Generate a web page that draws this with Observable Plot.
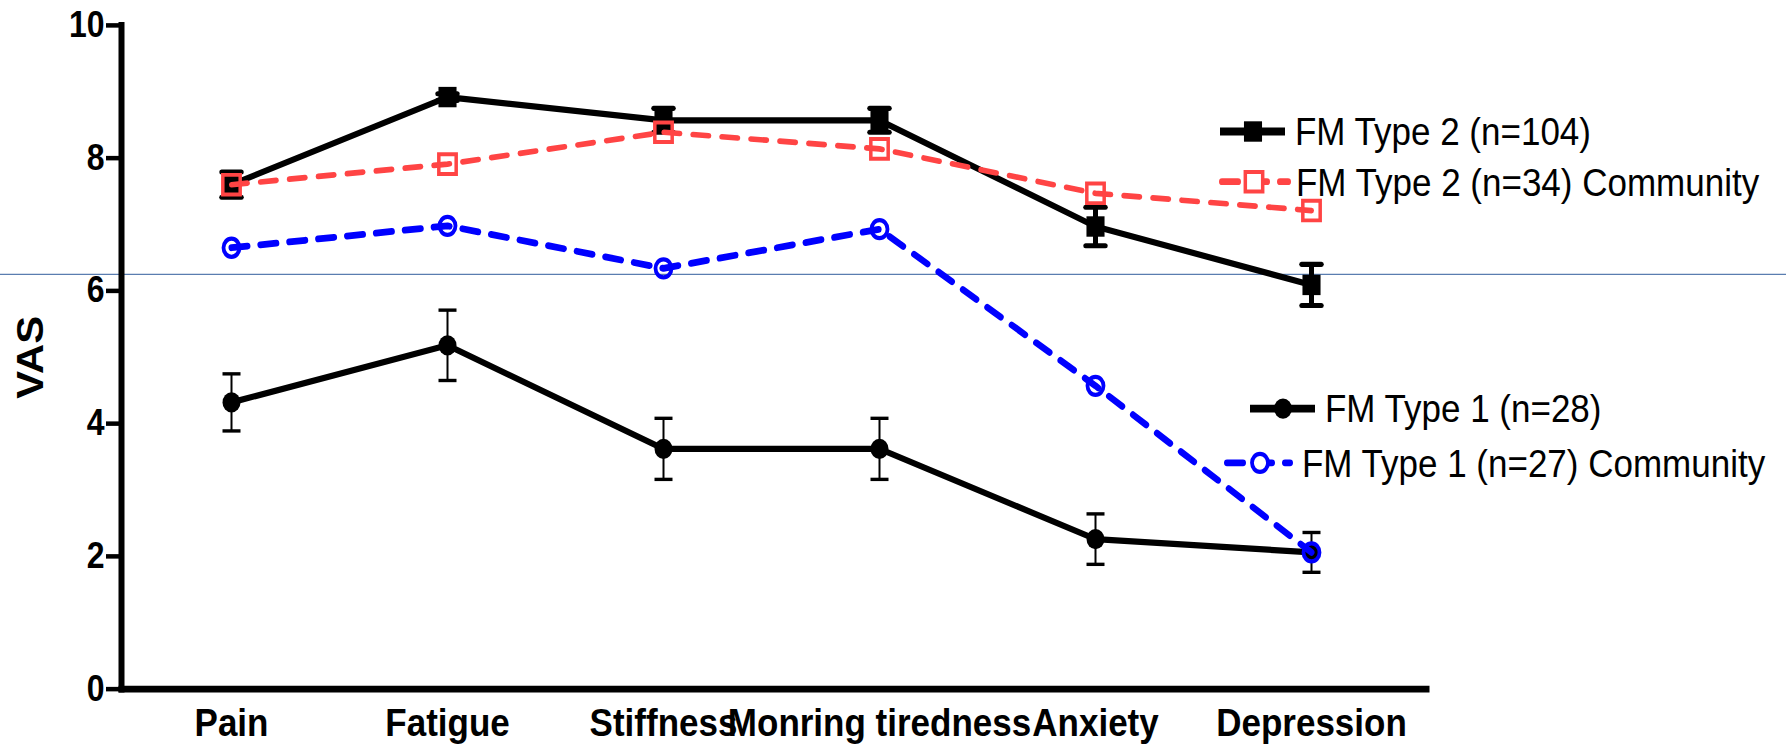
<!DOCTYPE html>
<html>
<head>
<meta charset="utf-8">
<script src="https://cdn.jsdelivr.net/npm/d3@7"></script>
<script src="https://cdn.jsdelivr.net/npm/@observablehq/plot@0.6"></script>
<style>
  html, body { margin: 0; padding: 0; background: #fff; }
  #chart svg { display: block; }
</style>
</head>
<body>
<div id="chart"></div>
<script>
// Symptom categories (x axis)
const categories = ["Pain", "Fatigue", "Stiffness", "Monring tiredness", "Anxiety", "Depression"];

// Mean VAS scores and error bars per group
const type2 = [7.60, 8.92, 8.57, 8.57, 6.97, 6.09];
const type2Err = [0.19, 0.05, 0.18, 0.18, 0.29, 0.31];
const type2Community = [7.60, 7.91, 8.39, 8.14, 7.47, 7.21];
const type1 = [4.32, 5.18, 3.62, 3.62, 2.26, 2.06];
const type1Err = [0.43, 0.53, 0.46, 0.46, 0.38, 0.30];
const type1Community = [6.65, 6.98, 6.34, 6.93, 4.57, 2.06];

// Y axis ticks
const yTicks = [0, 2, 4, 6, 8, 10];

// Thin horizontal reference line across the figure
const guideLevel = 6.24;

// Legend entries
const legendLabels = [
  "FM Type 2 (n=104)",
  "FM Type 2 (n=34) Community",
  "FM Type 1 (n=28)",
  "FM Type 1 (n=27) Community"
];

const RED = "#ff4444";
const BLUE = "#0000ff";
const FONT = "'Liberation Sans', Arial, Helvetica, sans-serif";
const DASH = "16,13";

function series(values, errors) {
  return categories.map((cat, i) => ({cat, v: values[i], e: errors ? errors[i] : 0}));
}
const t2 = series(type2, type2Err);
const t2c = series(type2Community);
const t1 = series(type1, type1Err);
const t1c = series(type1Community);

// horizontal cap for error bars
const capSymbol = {
  draw(ctx, size) {
    const r = Math.sqrt(size / Math.PI);
    ctx.moveTo(-r, 0);
    ctx.lineTo(r, 0);
  }
};

// The figure is laid out 660 units tall and displayed 745px tall (vertically stretched).
const W = 1786, H = 660, H_OUT = 745;

const chart = Plot.plot({
  width: W,
  height: H,
  marginLeft: 121,
  marginRight: 360,
  marginTop: 22,
  marginBottom: 50,
  style: {fontFamily: FONT, background: "white", color: "black"},
  x: {type: "point", domain: categories, range: [229.5, 1313], padding: 0},
  y: {domain: [0, 10]},
  marks: [
    Plot.axisY({ticks: yTicks, tickSize: 15, tickPadding: 2, strokeWidth: 4, fontSize: 32, fontWeight: "bold", label: null, tickFormat: d => String(d)}),
    Plot.axisX({tickSize: 0, tickPadding: 17, fontSize: 35, fontWeight: "bold", label: null}),
    Plot.frame({anchor: "left", strokeWidth: 6, strokeLinecap: "square"}),
    Plot.frame({anchor: "bottom", strokeWidth: 6, strokeLinecap: "square"}),
    Plot.text(["VAS"], {frameAnchor: "left", dx: -90, rotate: -90, text: d => d, fontSize: 37, fontWeight: "bold", letterSpacing: -3, textAnchor: "middle", lineAnchor: "middle"}),

    // FM Type 1
    Plot.ruleX(t1, {x: "cat", y1: d => d.v - d.e, y2: d => d.v + d.e, stroke: "black", strokeWidth: 2}),
    Plot.dot(t1, {x: "cat", y: d => d.v + d.e, symbol: capSymbol, r: 9, stroke: "black", strokeWidth: 3, fill: "none"}),
    Plot.dot(t1, {x: "cat", y: d => d.v - d.e, symbol: capSymbol, r: 9, stroke: "black", strokeWidth: 3, fill: "none"}),
    Plot.line(t1, {x: "cat", y: "v", stroke: "black", strokeWidth: 5.5}),
    Plot.dot(t1, {x: "cat", y: "v", symbol: "circle", r: 9, fill: "black"}),

    // FM Type 2
    Plot.ruleX(t2, {x: "cat", y1: d => d.v - d.e, y2: d => d.v + d.e, stroke: "black", strokeWidth: 5}),
    Plot.dot(t2, {x: "cat", y: d => d.v + d.e, symbol: capSymbol, r: 10, stroke: "black", strokeWidth: 4.5, strokeLinecap: "round", fill: "none"}),
    Plot.dot(t2, {x: "cat", y: d => d.v - d.e, symbol: capSymbol, r: 10, stroke: "black", strokeWidth: 4.5, strokeLinecap: "round", fill: "none"}),
    Plot.line(t2, {x: "cat", y: "v", stroke: "black", strokeWidth: 5.5}),
    Plot.dot(t2, {x: "cat", y: "v", symbol: "square", r: 10.2, fill: "black"}),

    // FM Type 2 Community
    Plot.line(t2c, {x: "cat", y: "v", stroke: RED, strokeWidth: 5, strokeDasharray: DASH, strokeLinecap: "round"}),
    Plot.dot(t2c, {x: "cat", y: "v", symbol: "square", r: 9.8, stroke: RED, strokeWidth: 3.5, fill: "none"}),

    // FM Type 1 Community
    Plot.line(t1c, {x: "cat", y: "v", stroke: BLUE, strokeWidth: 6, strokeDasharray: DASH, strokeLinecap: "round"}),
    Plot.dot(t1c, {x: "cat", y: "v", symbol: "circle", r: 8, stroke: BLUE, strokeWidth: 3.8, fill: "none"})
  ]
});

// stretch the drawing vertically to the display height
chart.setAttribute("height", H_OUT);
chart.setAttribute("preserveAspectRatio", "none");
chart.style.width = W + "px";
chart.style.height = H_OUT + "px";
chart.style.maxWidth = "none";

const svg = d3.select(chart);
const yScale = chart.scale("y");

// thin guide line spanning the whole figure, drawn beneath the data
svg.insert("line", "g")
  .attr("x1", 0).attr("x2", W)
  .attr("y1", yScale.apply(guideLevel)).attr("y2", yScale.apply(guideLevel))
  .attr("stroke", "#5a7db0").attr("stroke-width", 1);

// legend
const legendStyle = [
  {stroke: "black", dash: null, symbol: d3.symbolSquare, r: 10.2, fill: "black", sw: 0, lw: 7},
  {stroke: RED, dash: DASH, symbol: d3.symbolSquare, r: 9.8, fill: "none", sw: 3.5, lw: 6},
  {stroke: "black", dash: null, symbol: d3.symbolCircle, r: 9, fill: "black", sw: 0, lw: 7},
  {stroke: BLUE, dash: DASH, symbol: d3.symbolCircle, r: 8, fill: "none", sw: 3.8, lw: 6}
];
const legendPos = [
  {y: 116.5, x1: 1220, x2: 1285, mx: 1253, tx: 1295},
  {y: 161, x1: 1222, x2: 1288, mx: 1254, tx: 1296},
  {y: 362, x1: 1250, x2: 1315, mx: 1283, tx: 1325},
  {y: 410, x1: 1227, x2: 1290, mx: 1260, tx: 1302}
];
const legend = svg.append("g").attr("font-family", FONT);
legendLabels.forEach((label, i) => {
  const s = legendStyle[i], p = legendPos[i];
  const g = legend.append("g");
  g.append("line")
    .attr("x1", p.x1).attr("x2", p.x2).attr("y1", p.y).attr("y2", p.y)
    .attr("stroke", s.stroke).attr("stroke-width", s.lw)
    .attr("stroke-dasharray", s.dash)
    .attr("stroke-linecap", s.dash ? "round" : "butt");
  g.append("path")
    .attr("transform", `translate(${p.mx},${p.y})`)
    .attr("d", d3.symbol(s.symbol, Math.PI * s.r * s.r)())
    .attr("fill", s.fill === "none" ? "white" : s.fill)
    .attr("stroke", s.sw ? s.stroke : "none")
    .attr("stroke-width", s.sw);
  g.append("text")
    .attr("x", p.tx).attr("y", p.y).attr("dy", "0.35em")
    .attr("font-size", 35).attr("fill", "black").attr("text-anchor", "start")
    .text(label);
});

document.getElementById("chart").appendChild(chart);
</script>
</body>
</html>
